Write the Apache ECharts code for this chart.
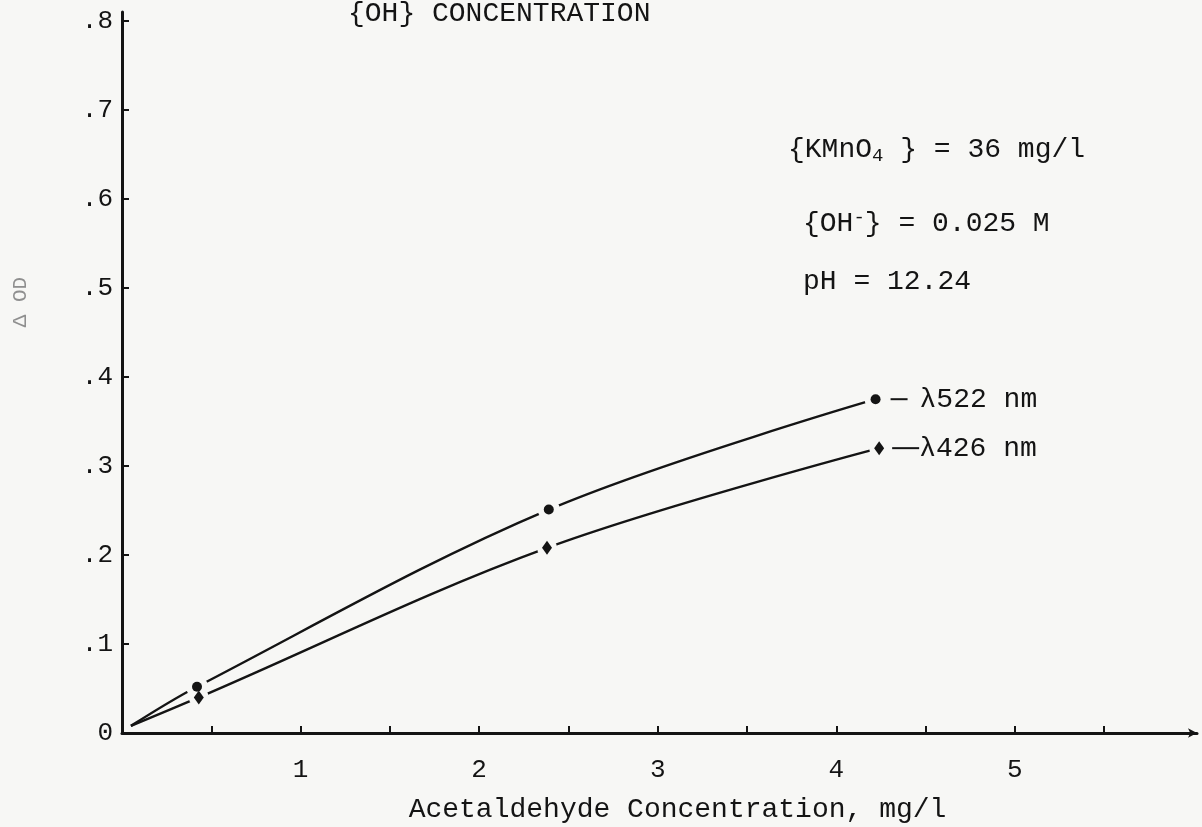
<!DOCTYPE html>
<html>
<head>
<meta charset="utf-8">
<title>Acetaldehyde calibration</title>
<script src="https://cdn.jsdelivr.net/npm/echarts@6/dist/echarts.min.js"></script>
<style>
  html, body { margin: 0; padding: 0; background: #f7f7f5; }
  #chart { width: 1202px; height: 827px; }
</style>
</head>
<body>
<div id="chart"></div>
<script>
// Axis ticks and labels
const xTickValues = [0.5, 1, 1.5, 2, 2.5, 3, 3.5, 4, 4.5, 5, 5.5];
const xLabelValues = [1, 2, 3, 4, 5];
const yTickValues = [0.1, 0.2, 0.3, 0.4, 0.5, 0.6, 0.7, 0.8];
const yLabelValues = [0, 0.1, 0.2, 0.3, 0.4, 0.5, 0.6, 0.7, 0.8];

// Both curves leave from the origin
const curveStart = [0.05, 0.008];

// Measured ΔOD vs acetaldehyde concentration (mg/l)
const points522 = [[0.42, 0.052], [2.39, 0.251], [4.22, 0.375]];
const points426 = [[0.43, 0.040], [2.38, 0.208], [4.24, 0.320]];

const INK = '#141414';
const PAPER = '#f7f7f5';
const FONT = 'Liberation Mono';
const BIG = '28px "Liberation Mono"';

function withEndLabel(points, label) {
  return points.map((p, i) =>
    i === points.length - 1 ? { value: p, label: Object.assign({ show: true }, label) } : p
  );
}

const chart = echarts.init(document.getElementById('chart'), null, { renderer: 'canvas' });

chart.setOption({
  backgroundColor: PAPER,
  animation: false,
  grid: { left: 122, right: 5, top: 12, bottom: 94, containLabel: false, outerBoundsMode: 'none' },
  xAxis: {
    type: 'value',
    min: 0,
    max: 6.02,
    name: 'Acetaldehyde Concentration, mg/l',
    nameLocation: 'middle',
    nameGap: 63,
    nameTextStyle: { fontFamily: FONT, fontSize: 28, color: INK, padding: [0, 0, 0, 36] },
    axisLine: {
      onZero: false,
      symbol: ['none', 'arrow'],
      symbolSize: [7, 9],
      lineStyle: { color: INK, width: 3 }
    },
    axisTick: {
      show: true,
      inside: true,
      length: 7,
      customValues: xTickValues,
      lineStyle: { color: INK, width: 2 }
    },
    axisLabel: {
      customValues: xLabelValues,
      margin: 24,
      fontFamily: FONT,
      fontSize: 26,
      color: INK
    },
    splitLine: { show: false }
  },
  yAxis: {
    type: 'value',
    min: 0,
    max: 0.81,
    axisLine: {
      show: true,
      onZero: false,
      lineStyle: { color: INK, width: 3 }
    },
    axisTick: {
      show: true,
      inside: true,
      length: 7,
      customValues: yTickValues,
      lineStyle: { color: INK, width: 2 }
    },
    axisLabel: {
      customValues: yLabelValues,
      margin: 9,
      fontFamily: FONT,
      fontSize: 26,
      color: INK,
      formatter: v => (v === 0 ? '0' : '.' + Math.round(v * 10))
    },
    splitLine: { show: false }
  },
  graphic: [
    {
      type: 'text',
      left: 348,
      top: 0,
      style: { text: '{OH} CONCENTRATION', font: BIG, fill: INK }
    },
    {
      type: 'text',
      x: 20,
      y: 302,
      rotation: Math.PI / 2,
      style: {
        text: 'Δ OD',
        font: '21px "Liberation Mono"',
        fill: '#8f8f8f',
        align: 'center',
        verticalAlign: 'middle'
      }
    },
    {
      type: 'text',
      left: 788,
      top: 136,
      style: {
        text: '{KMnO{sub|4} } = 36 mg/l',
        font: BIG,
        fill: INK,
        rich: { sub: { fontSize: 19, fontFamily: FONT, padding: [12, 0, 0, 0] } }
      }
    },
    {
      type: 'text',
      left: 803,
      top: 208,
      style: {
        text: '{OH{sup|-}} = 0.025 M',
        font: BIG,
        fill: INK,
        rich: { sup: { fontSize: 19, fontFamily: FONT, padding: [0, 0, 12, 0] } }
      }
    },
    {
      type: 'text',
      left: 803,
      top: 268,
      style: { text: 'pH = 12.24', font: BIG, fill: INK }
    }
  ],
  series: [
    {
      name: 'λ522 curve',
      type: 'line',
      data: [curveStart].concat(points522),
      smooth: 0.35,
      showSymbol: false,
      silent: true,
      z: 2,
      lineStyle: { color: INK, width: 2.4 }
    },
    {
      name: 'λ426 curve',
      type: 'line',
      data: [curveStart].concat(points426),
      smooth: 0.35,
      showSymbol: false,
      silent: true,
      z: 2,
      lineStyle: { color: INK, width: 2.4 }
    },
    {
      name: 'λ522 halo',
      type: 'scatter',
      data: points522,
      symbol: 'circle',
      symbolSize: 22,
      silent: true,
      z: 3,
      itemStyle: { color: PAPER, opacity: 1 }
    },
    {
      name: 'λ426 halo',
      type: 'scatter',
      data: points426,
      symbol: 'circle',
      symbolSize: 20,
      silent: true,
      z: 3,
      itemStyle: { color: PAPER, opacity: 1 }
    },
    {
      name: 'λ522 nm',
      type: 'scatter',
      data: withEndLabel(points522, {
        position: 'right',
        distance: 10,
        formatter: '{lead| }{txt|λ522 nm}',
        rich: {
          lead: { width: 17, height: 2, backgroundColor: INK },
          txt: { fontFamily: FONT, fontSize: 28, color: INK, padding: [0, 0, 0, 12] }
        }
      }),
      symbol: 'circle',
      symbolSize: 10,
      z: 4,
      itemStyle: { color: INK, opacity: 1 }
    },
    {
      name: 'λ426 nm',
      type: 'scatter',
      data: withEndLabel(points426, {
        position: 'right',
        distance: 8,
        formatter: '{lead| }{txt|λ426 nm}',
        rich: {
          lead: { width: 27, height: 2, backgroundColor: INK },
          txt: { fontFamily: FONT, fontSize: 28, color: INK }
        }
      }),
      symbol: 'diamond',
      symbolSize: [10, 14],
      z: 4,
      itemStyle: { color: INK, opacity: 1 }
    }
  ]
});
</script>
</body>
</html>
